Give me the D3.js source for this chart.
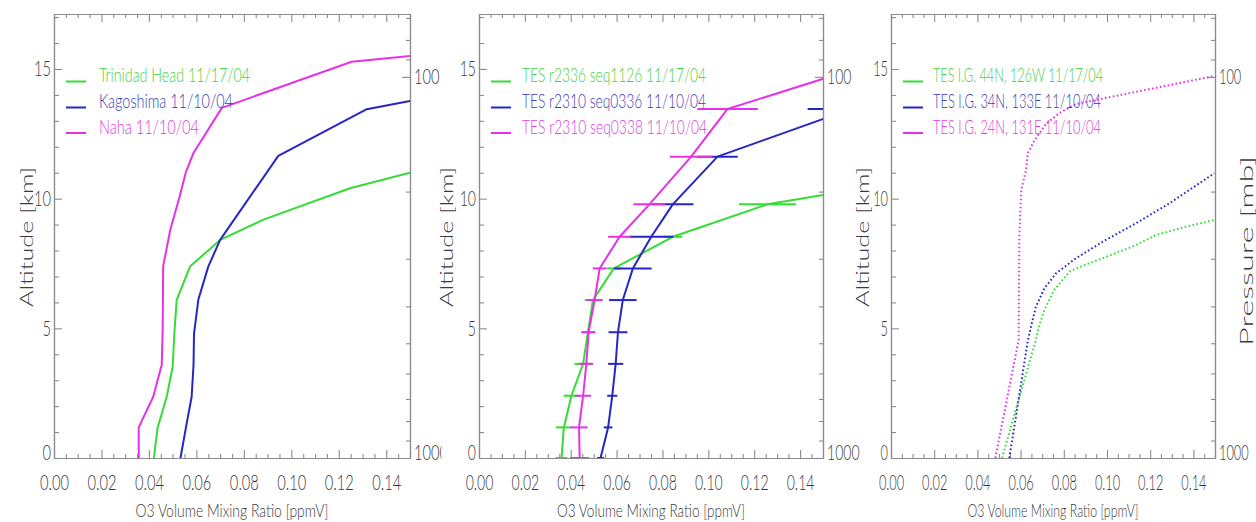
<!DOCTYPE html>
<html>
<head>
<meta charset="utf-8">
<script src="https://cdn.jsdelivr.net/npm/d3@7"></script>
<style>
  html, body { margin: 0; padding: 0; background: #fff; }
  svg { display: block; }
  text { font-family: Lato, "Liberation Sans", Arial, sans-serif; font-weight: 300; }
</style>
</head>
<body>
<svg id="chart" width="1256" height="522"></svg>
<script>
// ---------------- data ----------------
const xTickValues = [0, 0.02, 0.04, 0.06, 0.08, 0.10, 0.12, 0.14];
const altTickValues = [0, 5, 10, 15];
const pressureTickValues = [100, 1000];
const pressureMinorValues = [70, 80, 90, 200, 300, 400, 500, 600, 700, 800, 900];

const xTitle = "O3 Volume Mixing Ratio [ppmV]";
const altTitle = "Altitude [km]";
const presTitle = "Pressure [mb]";

// Ozonesonde profiles
const sondeNames = ["Trinidad Head 11/17/04", "Kagoshima 11/10/04", "Naha 11/10/04"];
const trinidadAlt = [0, 1.15, 2.36, 3.52, 4.8, 6.1, 7.38, 8.41, 9.18, 10.4, 11.0];
const trinidadO3  = [0.0421, 0.0436, 0.0475, 0.050, 0.0507, 0.0517, 0.0573, 0.070, 0.088, 0.1247, 0.15];
const kagoshimaAlt = [0, 1.18, 2.36, 3.6, 4.8, 6.1, 7.38, 8.41, 11.65, 13.45, 13.77];
const kagoshimaO3  = [0.0533, 0.0556, 0.058, 0.0588, 0.059, 0.0608, 0.065, 0.070, 0.0945, 0.1318, 0.15];
const nahaAlt = [0, 1.18, 2.36, 3.6, 5.0, 7.4, 8.8, 10.1, 11.0, 11.75, 13.5, 15.28, 15.5];
const nahaO3  = [0.0357, 0.0357, 0.0418, 0.0454, 0.0458, 0.046, 0.049, 0.053, 0.0555, 0.0587, 0.0707, 0.1254, 0.15];

// TES retrievals with errors
const tesNames = ["TES r2336 seq1126 11/17/04", "TES r2310 seq0336 11/10/04", "TES r2310 seq0338 11/10/04"];
const tesLevels = [0, 1.18, 2.4, 3.63, 4.85, 6.09, 7.31, 8.53, 9.78, 11.62, 13.46, 15.3];
const tes1126O3  = [0.036, 0.037, 0.0403, 0.0454, 0.0475, 0.0497, 0.0588, 0.0845, 0.1258, 0.25];
const tes1126Err = [0.0025, 0.0034, 0.0033, 0.0038, 0.003, 0.0036, 0.003, 0.004, 0.0125, 0.02];
const tes0336O3  = [0.053, 0.0563, 0.0581, 0.0596, 0.0606, 0.0627, 0.0671, 0.0751, 0.0845, 0.104, 0.1623];
const tes0336Err = [0.0015, 0.0019, 0.0022, 0.0033, 0.0041, 0.006, 0.0082, 0.0096, 0.009, 0.0088, 0.019];
const tes0338O3  = [0.0439, 0.0436, 0.0454, 0.0468, 0.0478, 0.0504, 0.0526, 0.0613, 0.0743, 0.0925, 0.1084, 0.1745];
const tes0338Err = [0.0042, 0.0038, 0.0035, 0.003, 0.003, 0.0035, 0.003, 0.005, 0.007, 0.0093, 0.0132, 0.018];

// TES initial guess profiles
const igNames = ["TES I.G. 44N, 126W 11/17/04", "TES I.G. 34N, 133E 11/10/04", "TES I.G. 24N, 131E 11/10/04"];
const ig44Alt = [0, 4.6, 5.06, 5.71, 6.48, 7.19, 7.44, 7.7, 8.21, 8.6, 8.92, 9.18];
const ig44O3  = [0.0514, 0.0672, 0.0685, 0.071, 0.0756, 0.0826, 0.0895, 0.098, 0.1134, 0.1227, 0.1366, 0.1497];
const ig34Alt = [0, 4.5, 5.06, 5.84, 6.54, 7.12, 7.7, 8.34, 9.05, 9.82, 10.98];
const ig34O3  = [0.0548, 0.0633, 0.0648, 0.0671, 0.071, 0.0764, 0.0856, 0.098, 0.1134, 0.1289, 0.1497];
const ig24Alt = [0, 4.55, 8.53, 10.34, 11.1, 11.75, 12.26, 12.9, 13.3, 13.65, 14.73];
const ig24O3  = [0.0483, 0.0591, 0.0594, 0.0603, 0.0625, 0.0633, 0.0665, 0.072, 0.078, 0.0857, 0.1497];

// ---------------- layout & style ----------------
const W = 1256, H = 522;
const plotTop = 14, plotBottom = 458;
const colors = ["#33dd33", "#2626c8", "#e632e6"];
const legendColors = ["#44d044", "#3a3ab8", "#dc40dc"];
const axisColor = "#8c8c8c";
const textColor = "#3a3a3a";

const panels = [
  { left: 54,  right: 410,  sx: 0.70, bgLeft: null, altBase: 33,  legendText: 99,
    legendW: [151, 134, 100], titleW: 193, names: sondeNames, style: "solid",
    series: [ { alt: trinidadAlt, o3: trinidadO3 },
              { alt: kagoshimaAlt, o3: kagoshimaO3 },
              { alt: nahaAlt, o3: nahaO3 } ] },
  { left: 479, right: 823,  sx: 0.67, bgLeft: 441.5, altBase: 453, legendText: 522,
    legendW: [184, 184, 185], titleW: 188, names: tesNames, style: "errors",
    series: [ { alt: tesLevels.slice(0, tes1126O3.length), o3: tes1126O3, err: tes1126Err },
              { alt: tesLevels.slice(0, tes0336O3.length), o3: tes0336O3, err: tes0336Err },
              { alt: tesLevels.slice(0, tes0338O3.length), o3: tes0338O3, err: tes0338Err } ] },
  { left: 891, right: 1215, sx: 0.61, bgLeft: 860, altBase: 869, legendText: 933,
    legendW: [170, 168, 168], titleW: 171, names: igNames, style: "dotted", pressureTitle: true,
    series: [ { alt: ig44Alt, o3: ig44O3 },
              { alt: ig34Alt, o3: ig34O3 },
              { alt: ig24Alt, o3: ig24O3 } ] }
];

const legendBaselines = [82, 108, 133.5];

const svg = d3.select("#chart");
svg.append("rect").attr("width", W).attr("height", H).attr("fill", "#fff");

// Altitude and pressure scales shared by all panels
const yAlt = d3.scaleLinear().domain([0, 17.12]).range([plotBottom, plotTop]);
const yPres = d3.scaleLog().domain([1000, 68.4]).range([plotBottom, plotTop]);

function styleAxis(sel) {
  sel.select(".domain").attr("stroke", axisColor).attr("stroke-width", 1.2);
  sel.selectAll(".tick line").attr("stroke", axisColor).attr("stroke-width", 1.1);
}

function styleLabels(sel, sx, xOff) {
  sel.selectAll(".tick text")
    .attr("font-size", 21)
    .attr("fill", textColor)
    .attr("transform", `scale(${sx},1)`)
    .attr("x", function () { return xOff / sx; });
}

panels.forEach((p, i) => {
  const g = svg.append("g");
  if (p.bgLeft != null) {
    g.append("rect").attr("x", p.bgLeft).attr("y", 0)
      .attr("width", W - p.bgLeft).attr("height", H).attr("fill", "#fff");
  }

  const x = d3.scaleLinear().domain([0, 0.15]).range([p.left, p.right]);
  const xMinor = d3.range(0, 0.1501, 0.005).filter(v => Math.abs(v / 0.02 - Math.round(v / 0.02)) > 1e-6);
  const altMinor = d3.range(1, 18).filter(v => v % 5 !== 0);

  // bottom axis
  const bottom = g.append("g").attr("transform", `translate(0,${plotBottom})`);
  bottom.call(d3.axisBottom(x).tickValues(xTickValues).tickSizeInner(-8).tickSizeOuter(0)
    .tickPadding(17).tickFormat(d3.format(".2f")));
  styleAxis(bottom);
  bottom.selectAll(".tick text").attr("font-size", 21).attr("fill", textColor)
    .attr("transform", `scale(${p.sx},1)`);
  const bottomMinor = g.append("g").attr("transform", `translate(0,${plotBottom})`);
  bottomMinor.call(d3.axisBottom(x).tickValues(xMinor).tickSizeInner(-4).tickSizeOuter(0).tickFormat(""));
  styleAxis(bottomMinor);

  // top axis
  const top = g.append("g").attr("transform", `translate(0,${plotTop})`);
  top.call(d3.axisTop(x).tickValues(xTickValues).tickSizeInner(-8).tickSizeOuter(0).tickFormat(""));
  styleAxis(top);
  const topMinor = g.append("g").attr("transform", `translate(0,${plotTop})`);
  topMinor.call(d3.axisTop(x).tickValues(xMinor).tickSizeInner(-4).tickSizeOuter(0).tickFormat(""));
  styleAxis(topMinor);

  // left altitude axis
  const left = g.append("g").attr("transform", `translate(${p.left},0)`);
  left.call(d3.axisLeft(yAlt).tickValues(altTickValues).tickSizeInner(-8).tickSizeOuter(0)
    .tickPadding(3).tickFormat(d3.format("d")));
  styleAxis(left);
  styleLabels(left, p.sx, -3);
  left.selectAll(".tick text").filter(d => d === 0).attr("dy", "0.05em");
  const leftMinor = g.append("g").attr("transform", `translate(${p.left},0)`);
  leftMinor.call(d3.axisLeft(yAlt).tickValues(altMinor).tickSizeInner(-5).tickSizeOuter(0).tickFormat(""));
  styleAxis(leftMinor);

  // right pressure axis
  const right = g.append("g").attr("transform", `translate(${p.right},0)`);
  right.call(d3.axisRight(yPres).tickValues(pressureTickValues).tickSizeInner(-8).tickSizeOuter(0)
    .tickPadding(4).tickFormat(d3.format("d")));
  styleAxis(right);
  styleLabels(right, p.sx, 4);
  right.selectAll(".tick text").filter(d => d === 1000).attr("dy", "0.05em");
  const rightMinor = g.append("g").attr("transform", `translate(${p.right},0)`);
  rightMinor.call(d3.axisRight(yPres).tickValues(pressureMinorValues).tickSizeInner(-4).tickSizeOuter(0).tickFormat(""));
  styleAxis(rightMinor);

  // axis titles
  g.append("text")
    .attr("x", (p.left + p.right) / 2).attr("y", 516.5)
    .attr("text-anchor", "middle").attr("font-size", 18).attr("fill", textColor)
    .attr("textLength", p.titleW).attr("lengthAdjust", "spacingAndGlyphs")
    .text(xTitle);
  g.append("text")
    .attr("transform", `translate(${p.altBase},237) rotate(-90)`)
    .attr("text-anchor", "middle").attr("font-size", 17).attr("fill", textColor)
    .attr("textLength", 140).attr("lengthAdjust", "spacingAndGlyphs")
    .text(altTitle);
  if (p.pressureTitle) {
    g.append("text")
      .attr("transform", `translate(${p.right + 38},251) rotate(-90)`)
      .attr("text-anchor", "middle").attr("font-size", 17).attr("fill", textColor)
      .attr("textLength", 190).attr("lengthAdjust", "spacingAndGlyphs")
      .text(presTitle);
  }

  // profiles, clipped to the plot box
  const clipId = "plotclip" + i;
  g.append("clipPath").attr("id", clipId).append("rect")
    .attr("x", p.left).attr("y", plotTop)
    .attr("width", p.right - p.left).attr("height", plotBottom - plotTop);
  const plot = g.append("g").attr("clip-path", `url(#${clipId})`);

  const line = d3.line().x(d => x(d.o3)).y(d => yAlt(d.alt));

  p.series.forEach((s, k) => {
    const pts = s.o3.map((v, j) => ({ o3: v, alt: s.alt[j], err: s.err ? s.err[j] : 0 }));
    const path = plot.append("path").datum(pts)
      .attr("d", line).attr("fill", "none")
      .attr("stroke", colors[k]).attr("stroke-width", 2)
      .attr("stroke-linejoin", "round");
    if (p.style === "dotted") {
      path.attr("stroke-dasharray", "1.6,2.4");
    }
    if (p.style === "errors") {
      plot.selectAll(null).data(pts).enter().append("line")
        .attr("x1", d => x(d.o3 - d.err)).attr("x2", d => x(d.o3 + d.err))
        .attr("y1", d => yAlt(d.alt)).attr("y2", d => yAlt(d.alt))
        .attr("stroke", colors[k]).attr("stroke-width", 2);
    }
  });

  // legend
  p.names.forEach((name, k) => {
    const yb = legendBaselines[k];
    g.append("line")
      .attr("x1", p.left + 12).attr("x2", p.left + 32)
      .attr("y1", yb - 0.5).attr("y2", yb - 0.5)
      .attr("stroke", colors[k]).attr("stroke-width", 2);
    g.append("text")
      .attr("x", p.legendText).attr("y", yb)
      .attr("font-size", 20).attr("fill", legendColors[k])
      .attr("textLength", p.legendW[k]).attr("lengthAdjust", "spacingAndGlyphs")
      .text(name);
  });
});
</script>
</body>
</html>
